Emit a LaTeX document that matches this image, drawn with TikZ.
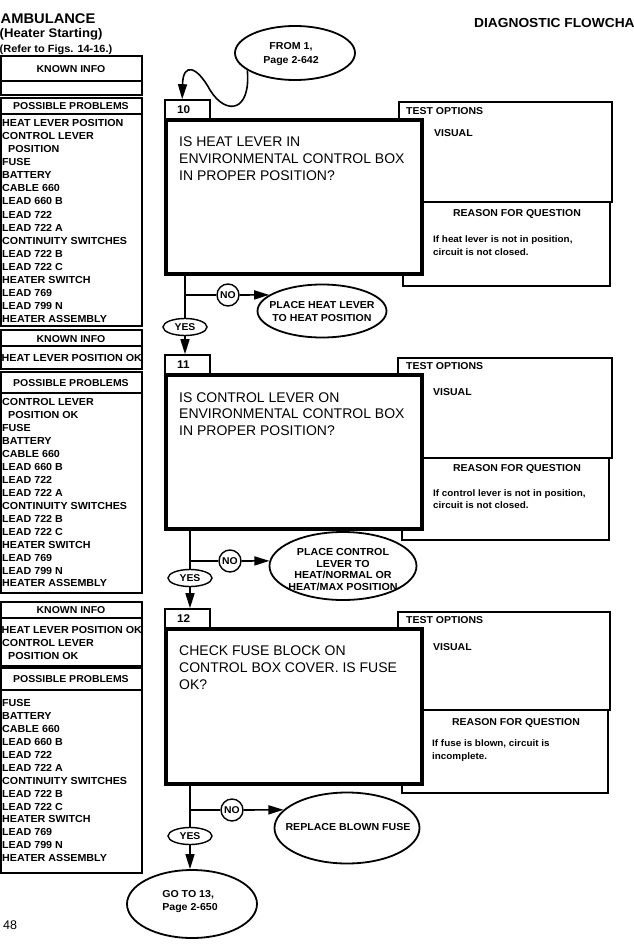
\documentclass[tikz,border=0pt]{standalone}
\usepackage{fontspec}
\setmainfont{Liberation Sans}
\newfontfamily\hb{Liberation Sans}[FakeStretch=1.05]
\usetikzlibrary{arrows.meta,shapes.geometric,fit}
\newcommand\bsz[2]{\hb\bfseries\fontsize{#1}{#2}\selectfont}
\newcommand\rsz[2]{\fontsize{#1}{#2}\selectfont}
\tikzset{
  box/.style={draw, line width=1.4pt, inner sep=0pt},
  tbox/.style={draw, line width=1.5pt, inner sep=0pt},
  rbox/.style={draw, line width=1.2pt, inner sep=0pt},
  qbox/.style={draw, line width=3.8pt, fill=white, inner sep=0pt},
  nbox/.style={draw, line width=1.6pt, fill=white, inner sep=0pt},
  li/.style={anchor=west, inner sep=0pt, text height=7.3pt, text depth=0pt, font=\bsz{10.2}{12}},
  hd/.style={inner sep=0pt, text height=7.1pt, text depth=0pt, font=\bsz{10}{12}},
  qt/.style={anchor=west, inner sep=0pt, text height=10pt, text depth=0pt, font=\rsz{14}{17}},
  rt/.style={anchor=west, inner sep=0pt, text height=6.7pt, text depth=0pt, font=\bsz{9.4}{12}},
  nt/.style={anchor=west, inner sep=0pt, text height=8pt, text depth=0pt, font=\bsz{11.2}{12}},
  ell/.style={draw, ellipse, line width=1.8pt, inner sep=0pt},
  etxt/.style={align=center, inner sep=0pt, font=\bsz{10.1}{13}},
  conn/.style={line width=1.6pt},
  arr/.style={conn, -{Triangle[length=15pt,width=9pt]}},
  yesn/.style={draw, ellipse, line width=1.4pt, minimum width=44pt, minimum height=17pt, inner sep=0pt, font=\bsz{9.9}{12}},
  non/.style={draw, circle, line width=1.4pt, minimum size=22pt, inner sep=0pt, font=\bsz{9.9}{12}},
}
\begin{document}
\begin{tikzpicture}[x=1pt, y=-1pt]
\useasboundingbox (0,0) rectangle (634,950);

% ---------- titles ----------
\node[anchor=west, inner sep=0pt, text height=10.2pt, text depth=0pt, font=\bsz{14}{15}] (t1) at (0.5,18) {AMBULANCE};
\node[anchor=west, inner sep=0pt, text height=9pt, text depth=0pt, font=\bsz{12.5}{14}] (t2) at (-0.5,33) {(Heater Starting)};
\node[anchor=west, inner sep=0pt, text height=7.5pt, text depth=0pt, font=\bsz{10.45}{12}] (t3) at (-0.5,49) {(Refer to Figs. 14-16.)};
\node[anchor=west, inner sep=0pt, text height=9.4pt, text depth=0pt, font=\bsz{13.1}{14}] (t4) at (474,23) {DIAGNOSTIC FLOWCHA};
\node[anchor=west, inner sep=0pt, text height=9pt, text depth=0pt, font=\rsz{12.5}{14}] (pg) at (3,925) {48};

% ---------- left column, panel 1 ----------
\node[box, fit={(0.8,56) (142,81)}] (kh1) {};
\node[hd] (kh1t) at (71,69) {KNOWN INFO};
\node[box, fit={(0.8,81) (142,95)}] (kc1) {};
\node[box, fit={(0.8,98) (142,114)}] (ph1) {};
\node[hd] (ph1t) at (71,106) {POSSIBLE PROBLEMS};
\node[box, fit={(0.8,114) (142,326)}] (pl1) {};
\foreach \t [count=\i from 0] in {HEAT LEVER POSITION, CONTROL LEVER, \hspace*{6pt}POSITION, FUSE, BATTERY, CABLE 660, LEAD 660 B, LEAD 722, LEAD 722 A, CONTINUITY SWITCHES, LEAD 722 B, LEAD 722 C, HEATER SWITCH, LEAD 769, LEAD 799 N, HEATER ASSEMBLY}
  \node[li] (pa\i) at (2,123+13.05*\i) {\t};

% ---------- left column, panel 2 ----------
\node[box, fit={(0.8,330) (142,346)}] (kh2) {};
\node[hd] (kh2t) at (71,338.5) {KNOWN INFO};
\node[box, fit={(0.8,346) (142,369)}] (kc2) {};
\node[li] (kc2t) at (1.5,358) {HEAT LEVER POSITION OK};
\node[box, fit={(0.8,372) (142,393)}] (ph2) {};
\node[hd] (ph2t) at (71,382.5) {POSSIBLE PROBLEMS};
\node[box, fit={(0.8,393) (142,593)}] (pl2) {};
\foreach \t [count=\i from 0] in {CONTROL LEVER, \hspace*{6pt}POSITION OK, FUSE, BATTERY, CABLE 660, LEAD 660 B, LEAD 722, LEAD 722 A, CONTINUITY SWITCHES, LEAD 722 B, LEAD 722 C, HEATER SWITCH, LEAD 769, LEAD 799 N, HEATER ASSEMBLY}
  \node[li] (pb\i) at (2,402+12.95*\i) {\t};

% ---------- left column, panel 3 ----------
\node[box, fit={(0.8,602) (142,618)}] (kh3) {};
\node[hd] (kh3t) at (71,610) {KNOWN INFO};
\node[box, fit={(0.8,618) (142,666)}] (kc3) {};
\node[li] (kc3a) at (1.5,630) {HEAT LEVER POSITION OK};
\node[li] (kc3b) at (2,643) {CONTROL LEVER};
\node[li] (kc3c) at (2,656) {\hspace*{6pt}POSITION OK};
\node[box, fit={(0.8,668) (142,690)}] (ph3) {};
\node[hd] (ph3t) at (71,679) {POSSIBLE PROBLEMS};
\node[box, fit={(0.8,690) (142,873)}] (pl3) {};
\foreach \t [count=\i from 0] in {FUSE, BATTERY, CABLE 660, LEAD 660 B, LEAD 722, LEAD 722 A, CONTINUITY SWITCHES, LEAD 722 B, LEAD 722 C, HEATER SWITCH, LEAD 769, LEAD 799 N, HEATER ASSEMBLY}
  \node[li] (pc\i) at (2,703+12.92*\i) {\t};

% ---------- step 10 ----------
\node[tbox, fit={(399,102) (612,202)}] (to10) {};
\node[rbox, fit={(403,202) (610,286)}] (re10) {};
\node[nbox, fit={(165,100) (210,120)}] (n10) {};
\node[nt] (n10t) at (177,109.5) {10};
\node[qbox, fit={(166,120) (422,274)}] (q10) {};
\node[qt] (q10a) at (179,141) {IS HEAT LEVER IN};
\node[qt] (q10b) at (179,158) {ENVIRONMENTAL CONTROL BOX};
\node[qt] (q10c) at (179,175) {IN PROPER POSITION?};
\node[hd, anchor=west] (to10t) at (406,111) {TEST OPTIONS};
\node[hd, anchor=west] (vi10) at (434,133) {VISUAL};
\node[hd] (re10t) at (517,213) {REASON FOR QUESTION};
\node[rt] (re10a) at (433,239) {If heat lever is not in position,};
\node[rt] (re10b) at (433,252) {circuit is not closed.};

% ---------- step 11 ----------
\node[tbox, fit={(398,358) (612,458)}] (to11) {};
\node[rbox, fit={(402,458) (609,540)}] (re11) {};
\node[nbox, fit={(165,355) (210,375)}] (n11) {};
\node[nt] (n11t) at (177,364.5) {11};
\node[qbox, fit={(166,375) (422,529)}] (q11) {};
\node[qt] (q11a) at (179,397) {IS CONTROL LEVER ON};
\node[qt] (q11b) at (179,413.5) {ENVIRONMENTAL CONTROL BOX};
\node[qt] (q11c) at (179,430) {IN PROPER POSITION?};
\node[hd, anchor=west] (to11t) at (406,366) {TEST OPTIONS};
\node[hd, anchor=west] (vi11) at (433,392) {VISUAL};
\node[hd] (re11t) at (517,468) {REASON FOR QUESTION};
\node[rt] (re11a) at (433,493) {If control lever is not in position,};
\node[rt] (re11b) at (433,505.5) {circuit is not closed.};

% ---------- step 12 ----------
\node[tbox, fit={(398,612) (610,710)}] (to12) {};
\node[rbox, fit={(402,710) (608,793)}] (re12) {};
\node[nbox, fit={(165,609) (210,629)}] (n12) {};
\node[nt] (n12t) at (177,618.5) {12};
\node[qbox, fit={(166,629) (422,784)}] (q12) {};
\node[qt] (q12a) at (179,650) {CHECK FUSE BLOCK ON};
\node[qt] (q12b) at (179,667) {CONTROL BOX COVER. IS FUSE};
\node[qt] (q12c) at (179,684) {OK?};
\node[hd, anchor=west] (to12t) at (406,620) {TEST OPTIONS};
\node[hd, anchor=west] (vi12) at (433,647) {VISUAL};
\node[hd] (re12t) at (516,722) {REASON FOR QUESTION};
\node[rt] (re12a) at (432,743) {If fuse is blown, circuit is};
\node[rt] (re12b) at (432,756) {incomplete.};

% ---------- terminals and outcome ellipses ----------
\node[ell, minimum width=120pt, minimum height=54pt] (from) at (295,53) {};
\node[etxt, font=\bsz{10.1}{14}] (fromt) at (291,54) {FROM 1,\\Page 2-642};

\node[ell, minimum width=129pt, minimum height=53pt] (pl10) at (322,311) {};
\node[etxt] (pl10t) at (322,311.5) {PLACE HEAT LEVER\\TO HEAT POSITION};

\node[ell, minimum width=147pt, minimum height=68pt] (pl11) at (343,566) {};
\node[etxt, font=\bsz{10.2}{11.7}] (pl11t) at (343,569.5) {PLACE CONTROL\\LEVER TO\\HEAT/NORMAL OR\\HEAT/MAX POSITION};

\node[ell, minimum width=145pt, minimum height=71pt] (rep12) at (347,828) {};
\node[etxt] (rep12t) at (348,827) {REPLACE BLOWN FUSE};

\node[ell, minimum width=130pt, minimum height=68pt] (go) at (192,904) {};
\node[etxt, align=left] (got) at (190,902) {GO TO 13,\\Page 2-650};

% ---------- YES / NO ----------
\node[yesn] (yes10) at (185,327) {YES};
\node[non] (no10) at (228,295) {NO};
\node[yesn] (yes11) at (190,578) {YES};
\node[non] (no11) at (230,561) {NO};
\node[yesn] (yes12) at (190,836) {YES};
\node[non] (no12) at (232,810) {NO};

\coordinate (b10) at (185,295);
\coordinate (b11) at (190,561);
\coordinate (b12) at (190,810);

% ---------- connectors ----------
\draw[arr] (from.200) .. controls (251,112) and (226,116) .. (210,90)
  .. controls (197,66) and (183,62) .. ([xshift=18pt]n10.north west);

\draw[conn] (q10.south -| yes10) -- (yes10.north);
\draw[conn] (b10) -- (no10.west);
\draw[arr] (no10.east) -- (pl10.163);
\draw[arr] (yes10.south) -- (yes10.south |- n11.north);

\draw[conn] (q11.south -| yes11) -- (yes11.north);
\draw[conn] (b11) -- (no11.west);
\draw[arr] (no11.east) -- (pl11.176);
\draw[arr] (yes11.south) -- (yes11.south |- n12.north);

\draw[conn] (q12.south -| yes12) -- (yes12.north);
\draw[conn] (b12) -- (no12.west);
\draw[arr] (no12.east) -- (rep12.164);
\draw[arr] (yes12.south) -- (yes12.south |- go.north);
\end{tikzpicture}
\end{document}
